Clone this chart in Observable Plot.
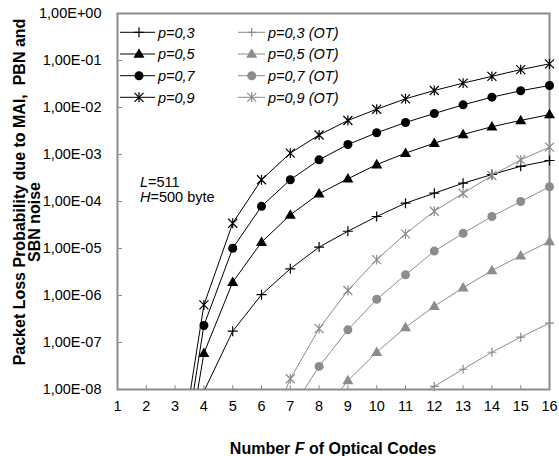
<!DOCTYPE html>
<html><head><meta charset="utf-8">
<script src="https://cdn.jsdelivr.net/npm/d3@7"></script>
<script src="https://cdn.jsdelivr.net/npm/@observablehq/plot@0.6"></script>
<style>
body{margin:0;background:#fff;}
#chart{width:559px;height:456px;}
</style></head><body><div id="chart"></div>
<script>
// ---- data ----
const F = [3,4,5,6,7,8,9,10,11,12,13,14,15,16];
const p03   = [null, 9.1e-9, 1.74e-7, 1.04e-6, 3.7e-6, 1.07e-5, 2.33e-5, 4.8e-5, 9.2e-5, 1.5e-4, 2.45e-4, 3.75e-4, 5.6e-4, 7.45e-4];
const p05   = [1.3e-11, 5.9e-8, 1.92e-6, 1.36e-5, 5.2e-5, 1.46e-4, 3.04e-4, 6.1e-4, 1.07e-3, 1.74e-3, 2.67e-3, 3.9e-3, 5.3e-3, 7.1e-3];
const p07   = [2.9e-11, 2.3e-7, 1.01e-5, 7.9e-5, 2.9e-4, 7.7e-4, 1.63e-3, 2.9e-3, 4.8e-3, 7.45e-3, 1.14e-2, 1.66e-2, 2.27e-2, 2.94e-2];
const p09   = [8e-11, 6.3e-7, 3.45e-5, 2.9e-4, 1.07e-3, 2.6e-3, 5.3e-3, 9.2e-3, 1.53e-2, 2.3e-2, 3.3e-2, 4.6e-2, 6.4e-2, 8.5e-2];
const p03ot = [null, null, null, null, null, null, null, null, 4.7e-9, 1.17e-8, 2.7e-8, 6.2e-8, 1.3e-7, 2.58e-7];
const p05ot = [null, null, null, null, null, 2.6e-9, 1.55e-8, 6.2e-8, 2.1e-7, 5.9e-7, 1.46e-6, 3.4e-6, 7.0e-6, 1.41e-5];
const p07ot = [null, null, null, null, 3.5e-9, 3.1e-8, 1.86e-7, 8.3e-7, 2.75e-6, 8.8e-6, 2.1e-5, 4.8e-5, 1.0e-4, 2.06e-4];
const p09ot = [null, null, null, 6e-10, 1.69e-8, 1.97e-7, 1.28e-6, 5.8e-6, 2.05e-5, 6.2e-5, 1.5e-4, 3.57e-4, 7.7e-4, 1.43e-3];
const seriesNames = ["p=0,3", "p=0,5", "p=0,7", "p=0,9", "p=0,3 (OT)", "p=0,5 (OT)", "p=0,7 (OT)", "p=0,9 (OT)"];
const seriesValues = [p03, p05, p07, p09, p03ot, p05ot, p07ot, p09ot];
const xTicks = [1,2,3,4,5,6,7,8,9,10,11,12,13,14,15,16];
const yTicks = [1e-8,1e-7,1e-6,1e-5,1e-4,1e-3,1e-2,1e-1,1];
const yTickLabels = ["1,00E-08","1,00E-07","1,00E-06","1,00E-05","1,00E-04","1,00E-03","1,00E-02","1,00E-01","1,00E+00"];
const yTitle = ["Packet Loss Probability due to MAI,  PBN and", "SBN noise"];
const noteL = "511", noteH = "500 byte";

// ---- styles ----
const starSym = {draw(ctx, size){const r=Math.sqrt(size/Math.PI); ctx.moveTo(-r,-r);ctx.lineTo(r,r);ctx.moveTo(-r,r);ctx.lineTo(r,-r);ctx.moveTo(0,-r*1.1);ctx.lineTo(0,r*1.1);}};
const plusSym = {draw(ctx, size){const r=Math.sqrt(size/Math.PI); ctx.moveTo(-r,0);ctx.lineTo(r,0);ctx.moveTo(0,-r);ctx.lineTo(0,r);}};
const triSym  = {draw(ctx, size){const r=Math.sqrt(size/Math.PI); const h=r*Math.sqrt(3); ctx.moveTo(0,-h*0.6);ctx.lineTo(r,h*0.4);ctx.lineTo(-r,h*0.4);ctx.closePath();}};
const circSym = {draw(ctx, size){const r=Math.sqrt(size/Math.PI); ctx.moveTo(r,0); ctx.arc(0,0,r,0,2*Math.PI);}};
const BLACK = "#000", GREY = "#8c8c8c";
const styles = [
  {color:BLACK, sym:plusSym, r:5,   filled:false},
  {color:BLACK, sym:triSym,  r:5.5, filled:true},
  {color:BLACK, sym:circSym, r:4.5, filled:true},
  {color:BLACK, sym:starSym, r:4.5, filled:false},
  {color:GREY,  sym:plusSym, r:4.5, filled:false},
  {color:GREY,  sym:triSym,  r:5.5, filled:true},
  {color:GREY,  sym:circSym, r:4.5, filled:true},
  {color:GREY,  sym:starSym, r:4.5, filled:false}
];

const rows = [];
seriesNames.forEach((name, i) => {
  F.forEach((f, j) => { const v = seriesValues[i][j]; if (v != null) rows.push({s:name, F:f, v}); });
});

const FONT = "'Liberation Sans', Arial, sans-serif";
const marks = [];
marks.push(Plot.ruleY(yTicks, {x1:1, x2:1 + 5/28.8, stroke:GREY, strokeWidth:1}));
marks.push(Plot.ruleX(xTicks, {y1:1e-8, y2:1e-8*Math.pow(10, 4/47), stroke:GREY, strokeWidth:1}));
marks.push(Plot.frame({stroke:GREY, strokeWidth:2}));
seriesNames.forEach((name, i) => {
  const st = styles[i];
  const data = rows.filter(r => r.s === name);
  marks.push(Plot.line(data, {x:"F", y:"v", stroke:st.color, strokeWidth:1, clip:true}));
});
seriesNames.forEach((name, i) => {
  const st = styles[i];
  const data = rows.filter(r => r.s === name && r.v >= 1e-8);
  marks.push(Plot.dot(data, {x:"F", y:"v", symbol:st.sym, r:st.r,
    fill: st.filled ? st.color : "none", stroke: st.filled ? "none" : st.color, strokeWidth:1.2}));
});

const svg = Plot.plot({
  width:559, height:456,
  marginLeft:117, marginRight:10, marginTop:13, marginBottom:67,
  style:{fontFamily:FONT, fontSize:"14.5px", color:"#000", background:"#fff"},
  x:{domain:[1,16], ticks:xTicks, tickSize:0, tickPadding:11, tickFormat:d=>String(d), label:null},
  y:{type:"log", domain:[1e-8,1], ticks:yTicks, tickSize:0, tickPadding:16,
     tickFormat:d=>yTickLabels[Math.round(Math.log10(d))+8], label:null},
  marks
});

const s = d3.select(svg);
// y title
s.append("text").attr("transform","translate(19,192) rotate(-90)").attr("text-anchor","middle")
  .attr("font-family",FONT).attr("font-size",16).attr("font-weight","bold").attr("dy","0.35em").text(yTitle[0]);
s.append("text").attr("transform","translate(34,222) rotate(-90)").attr("text-anchor","middle")
  .attr("font-family",FONT).attr("font-size",16).attr("font-weight","bold").attr("dy","0.35em").text(yTitle[1]);
// x title
const xt = s.append("text").attr("x",333).attr("y",454).attr("text-anchor","middle")
  .attr("font-family",FONT).attr("font-size",16).attr("font-weight","bold");
xt.append("tspan").text("Number ");
xt.append("tspan").attr("font-style","italic").text("F");
xt.append("tspan").text(" of Optical Codes");
// annotation
const n1 = s.append("text").attr("x",140).attr("y",186.5).attr("text-anchor","start").attr("font-family",FONT).attr("font-size",14.5);
n1.append("tspan").attr("font-style","italic").text("L"); n1.append("tspan").text("=" + noteL);
const n2 = s.append("text").attr("x",140).attr("y",201.8).attr("text-anchor","start").attr("font-family",FONT).attr("font-size",14.5);
n2.append("tspan").attr("font-style","italic").text("H"); n2.append("tspan").text("=" + noteH);
// legend
const rowsY = [32.3, 54, 75.7, 97.3];
const cols = [{x1:120, x2:155, mx:139, tx:158}, {x1:238, x2:265, mx:251.7, tx:268}];
const lg = s.append("g");
seriesNames.forEach((name, i) => {
  const st = styles[i], c = cols[Math.floor(i/4)], y = rowsY[i%4];
  lg.append("line").attr("x1",c.x1).attr("x2",c.x2).attr("y1",y).attr("y2",y).attr("stroke",st.color).attr("stroke-width",1);
  lg.append("path").attr("transform",`translate(${c.mx},${y})`)
    .attr("d", d3.symbol(st.sym, st.r*st.r*Math.PI)())
    .attr("fill", st.filled ? st.color : "none").attr("stroke", st.filled ? "none" : st.color).attr("stroke-width",1.2);
  lg.append("text").attr("x",c.tx).attr("y",y).attr("dy","0.36em").attr("text-anchor","start").attr("font-family",FONT)
    .attr("font-size",14.5).attr("font-style","italic").text(name);
});
document.getElementById("chart").appendChild(svg);
</script></body></html>
